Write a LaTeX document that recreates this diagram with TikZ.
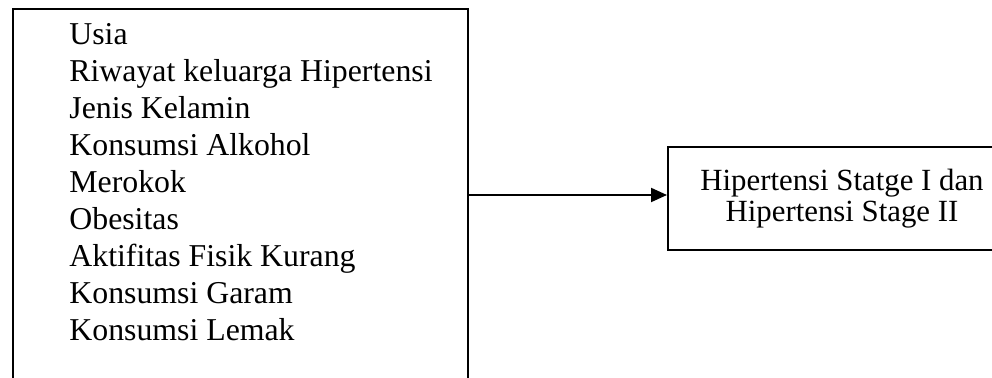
\documentclass[tikz,border=0pt]{standalone}
\usepackage{fontspec}
\setmainfont{Liberation Serif}
\usetikzlibrary{arrows.meta,positioning}
\tikzstyle{kotak} = [draw, line width=1pt, inner sep=0pt]
\tikzstyle{panah} = [-{Triangle[length=8pt,width=7pt]}, line width=1pt]

\begin{document}
\begin{tikzpicture}[x=0.5pt,y=-0.5pt]

\useasboundingbox (0,0) rectangle (992,378);
\clip (0,0) rectangle (992,378);

% Kotak faktor risiko
\node[kotak, anchor=north west, minimum width=227.5pt, minimum height=220pt] (faktor) at (12,8) {};
\node[anchor=north west, align=left, inner sep=0pt, font=\fontsize{15.9}{18.5}\selectfont] (daftar) at (69,23) {Usia\\
Riwayat keluarga Hipertensi\\
Jenis Kelamin\\
Konsumsi Alkohol\\
Merokok\\
Obesitas\\
Aktifitas Fisik Kurang\\
Konsumsi Garam\\
Konsumsi Lemak};

% Kotak hipertensi
\node[kotak, minimum width=174pt, minimum height=51.5pt, align=center, font=\fontsize{15.4}{15.5}\selectfont] (hasil) at (842,198.5) {Hipertensi Statge I dan\\Hipertensi Stage II};

% Panah
\coordinate (masuk) at ([yshift=1.75pt]hasil.west);
\draw[panah] (faktor.east |- masuk) -- (masuk);

\end{tikzpicture}
\end{document}
